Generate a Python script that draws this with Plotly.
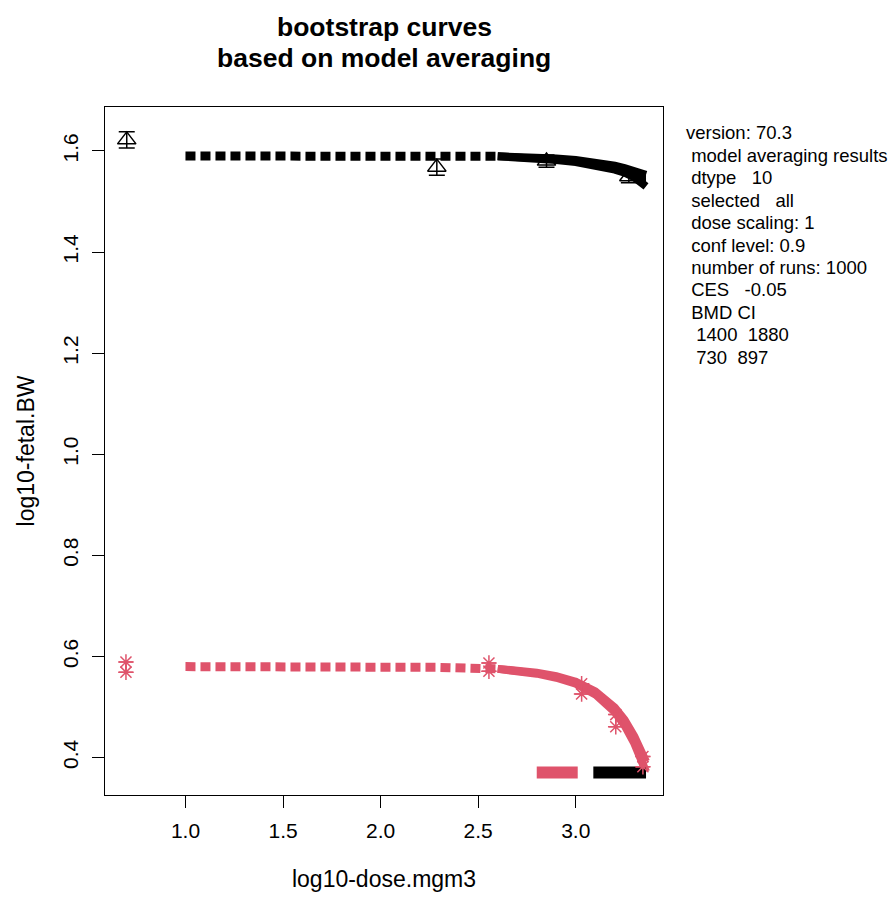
import plotly.graph_objects as go

# ---------------- data ----------------
x_range = [0.5876, 3.447]
y_range = [0.326, 1.687]
x_ticks = [1.0, 1.5, 2.0, 2.5, 3.0]
y_ticks = [0.4, 0.6, 0.8, 1.0, 1.2, 1.4, 1.6]

# observed group means (log10 dose, log10 response) with CI half-widths
black_x = [0.699, 2.288, 2.85, 3.272]
black_y = [1.622, 1.568, 1.580, 1.549]
black_err = [0.016, 0.016, 0.012, 0.012]

red_x = [0.695, 2.555, 3.03, 3.205, 3.344]
red_y = [0.579, 0.579, 0.536, 0.473, 0.392]
red_err = [0.010, 0.008, 0.010, 0.012, 0.010]

# bootstrap curves: flat (dashed) part and spreading part
flat_x = [1.0, 1.5, 2.0, 2.3, 2.6]
black_flat = [1.590, 1.590, 1.590, 1.590, 1.5895]
red_flat = [0.580, 0.580, 0.5795, 0.5785, 0.5755]

spread_x = [2.6, 2.7, 2.8, 2.9, 3.0, 3.1, 3.2, 3.25, 3.3, 3.36]
black_hi = [1.5895, 1.589, 1.587, 1.585, 1.582, 1.578, 1.571, 1.566, 1.560, 1.553]
black_lo = [1.5895, 1.588, 1.585, 1.582, 1.578, 1.572, 1.563, 1.557, 1.548, 1.530]
red_hi = [0.5755, 0.573, 0.568, 0.561, 0.550, 0.531, 0.499, 0.475, 0.442, 0.392]
red_lo = [0.5755, 0.572, 0.566, 0.558, 0.546, 0.525, 0.490, 0.464, 0.428, 0.372]

# BMD confidence intervals (log10 dose)
bmd_red = [2.80, 3.01]
bmd_black = [3.09, 3.36]
bmd_level = 0.3705

title_lines = ["bootstrap curves", "based on model averaging"]
info_lines = ["version: 70.3", " model averaging results", " dtype   10", " selected   all",
              " dose scaling: 1", " conf level: 0.9", " number of runs: 1000", " CES   -0.05",
              " BMD CI", "  1400  1880", "  730  897"]

BLACK = "#000000"
RED = "#DF536B"
FONT = "Liberation Sans, Arial, sans-serif"

fig = go.Figure()

def curve(xs, ys, color):
    fig.add_trace(go.Scatter(x=xs, y=ys, mode="lines",
                             line=dict(color=color, width=9, dash="10px,5px"),
                             hoverinfo="skip", showlegend=False))

def band(xs, lo, hi, color):
    fig.add_trace(go.Scatter(x=xs, y=lo, mode="lines",
                             line=dict(color=color, width=8),
                             hoverinfo="skip", showlegend=False))
    fig.add_trace(go.Scatter(x=xs, y=hi, mode="lines", fill="tonexty", fillcolor=color,
                             line=dict(color=color, width=8),
                             hoverinfo="skip", showlegend=False))

curve(flat_x, black_flat, BLACK)
band(spread_x, black_lo, black_hi, BLACK)
curve(flat_x, red_flat, RED)
band(spread_x, red_lo, red_hi, RED)

# BMD CI bars
for seg, col in [(bmd_red, RED), (bmd_black, BLACK)]:
    fig.add_trace(go.Scatter(x=seg, y=[bmd_level, bmd_level], mode="lines",
                             line=dict(color=col, width=12),
                             hoverinfo="skip", showlegend=False))

# data points
fig.add_trace(go.Scatter(x=black_x, y=black_y, mode="markers",
                         marker=dict(symbol="triangle-up-open", size=16, color=BLACK,
                                     line=dict(width=1.5, color=BLACK)),
                         error_y=dict(type="data", array=black_err, color=BLACK,
                                      thickness=1.5, width=8),
                         showlegend=False))
red_top = [y + e for y, e in zip(red_y, red_err)]
red_bot = [y - e for y, e in zip(red_y, red_err)]
for ys in (red_top, red_bot):
    fig.add_trace(go.Scatter(x=red_x, y=ys, mode="markers",
                             marker=dict(symbol="asterisk-open", size=13, color=RED,
                                         line=dict(width=1.5, color=RED)),
                             showlegend=False))
fig.add_trace(go.Scatter(x=red_x, y=red_y, mode="markers",
                         marker=dict(size=1, color=RED),
                         error_y=dict(type="data", array=red_err, color=RED,
                                      thickness=1.5, width=7),
                         showlegend=False))

TICK = 21
LAB = 23
axis_common = dict(showline=True, linecolor="black", linewidth=1.3, mirror=True,
                   ticks="outside", ticklen=12, tickwidth=1.3, tickcolor="black",
                   showgrid=False, zeroline=False,
                   tickfont=dict(family=FONT, size=TICK, color="black"))

fig.update_xaxes(range=x_range, tickvals=x_ticks, ticktext=[f"{v:.1f}" for v in x_ticks],
                 title=dict(text="log10-dose.mgm3", font=dict(family=FONT, size=LAB, color="black"),
                            standoff=29),
                 ticklabelstandoff=5, **axis_common)
fig.update_yaxes(range=y_range, tickvals=y_ticks, ticktext=[f"{v:.1f}" for v in y_ticks],
                 tickangle=-90,
                 title=dict(text="log10-fetal.BW", font=dict(family=FONT, size=LAB, color="black"),
                            standoff=18),
                 ticklabelstandoff=5, **axis_common)

L, R, T, B = 105, 232, 107, 103
W, H = 895, 898
pw = W - L - R
ph = H - T - B

annotations = []
for i, line in enumerate(title_lines):
    ypix = 27 + i * 31
    annotations.append(dict(
        text="<b>" + line + "</b>", xref="paper", yref="paper",
        x=(384 - L) / pw, y=1 - (ypix - T) / ph,
        xanchor="center", yanchor="middle", showarrow=False,
        font=dict(family=FONT, size=26.5, color="black")))
for i, line in enumerate(info_lines):
    ypix = 133 + i * 22.4
    annotations.append(dict(
        text=line.replace(" ", "\u00a0"), xref="paper", yref="paper",
        x=(684 - L) / pw, y=1 - (ypix - T) / ph,
        xanchor="left", yanchor="middle", showarrow=False,
        font=dict(family=FONT, size=18.5, color="black")))

fig.update_layout(
    width=W, height=H,
    margin=dict(l=L, r=R, t=T, b=B),
    paper_bgcolor="white", plot_bgcolor="white",
    annotations=annotations,
)

fig.write_html("out.html")
